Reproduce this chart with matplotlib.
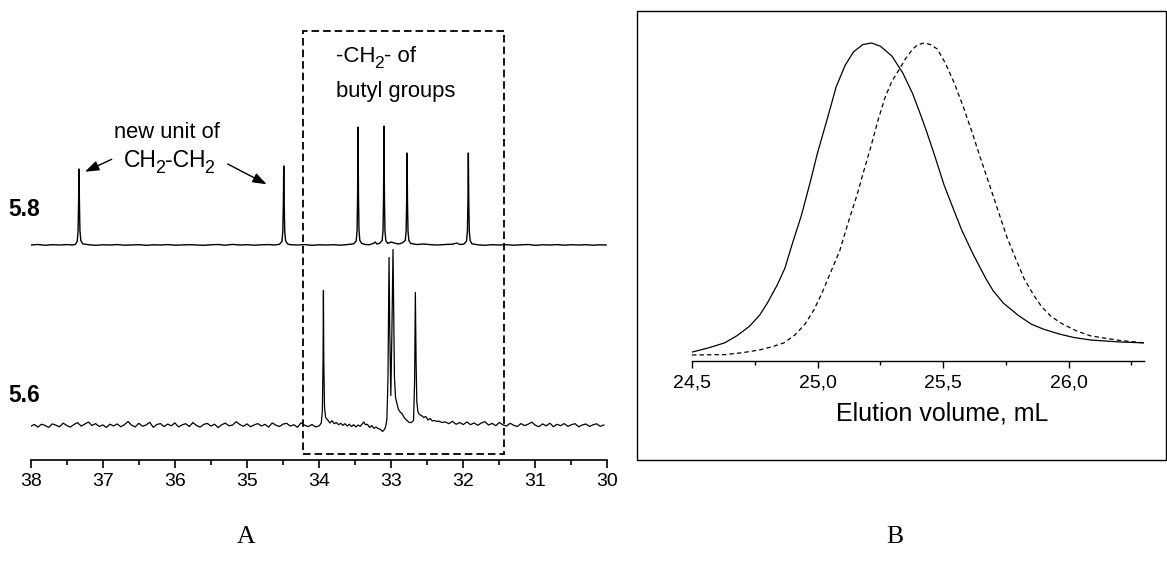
import numpy as np
import matplotlib
matplotlib.use("Agg")
import matplotlib.pyplot as plt
from matplotlib.patches import Rectangle, FancyArrowPatch
from matplotlib.ticker import MultipleLocator, FixedLocator, FixedFormatter

plt.rcParams['font.family'] = ['Liberation Sans', 'DejaVu Sans']

# ---------------- Panel A data: 13C NMR spectra (ppm, relative intensity) ----
# spectrum "5.8" (upper trace)
ppm_58 = [38.00, 37.90, 37.80, 37.70, 37.60, 37.50, 37.42, 37.38, 37.355, 37.343,
          37.336, 37.33, 37.324, 37.317, 37.305, 37.28, 37.20, 37.10, 37.00, 36.90,
          36.80, 36.70, 36.60, 36.50, 36.40, 36.30, 36.20, 36.10, 36.00, 35.90,
          35.80, 35.70, 35.60, 35.50, 35.40, 35.30, 35.20, 35.10, 35.00, 34.90,
          34.80, 34.70, 34.62, 34.55, 34.515, 34.503, 34.496, 34.49, 34.484, 34.477,
          34.465, 34.44, 34.40, 34.30, 34.20, 34.10, 34.00, 33.90, 33.80, 33.70,
          33.60, 33.52, 33.485, 33.473, 33.466, 33.46, 33.454, 33.447, 33.435, 33.41,
          33.36, 33.30, 33.25, 33.22, 33.20, 33.16, 33.125, 33.113, 33.106, 33.10,
          33.094, 33.087, 33.075, 33.05, 33.00, 32.96, 32.90, 32.85, 32.805, 32.793,
          32.786, 32.78, 32.774, 32.767, 32.755, 32.73, 32.65, 32.55, 32.45, 32.35,
          32.25, 32.15, 32.09, 32.05, 31.99, 31.955, 31.943, 31.936, 31.93, 31.924,
          31.917, 31.905, 31.88, 31.80, 31.70, 31.60, 31.50, 31.40, 31.30, 31.20,
          31.10, 31.00, 30.90, 30.80, 30.70, 30.60, 30.50, 30.40, 30.30, 30.20,
          30.10, 30.02]
int_58 = [0.0, 0.5, -0.3, 0.3, 0.0, 0.4, 0.0, 0.6, 3.5, 14.0,
          42.0, 76.0, 42.0, 14.0, 4.5, 1.2, 0.3, -0.3, 0.2, 0.0,
          0.4, -0.2, 0.1, 0.3, -0.3, 0.2, 0.0, 0.4, -0.2, 0.1,
          0.3, 0.0, -0.3, 0.2, 0.5, -0.2, 0.6, 0.0, 0.3, -0.2,
          0.2, 0.4, 0.0, 0.7, 3.5, 14.0, 42.0, 79.0, 42.0, 14.0,
          4.5, 1.2, 0.3, 0.0, 0.4, -0.3, 0.2, 0.0, 0.3, -0.2,
          0.5, 1.2, 4.0, 15.0, 50.0, 118.0, 50.0, 15.0, 4.5, 1.6,
          0.5, 0.3, 1.5, 3.0, 1.0, 1.7, 4.5, 15.0, 50.0, 119.0,
          50.0, 15.0, 4.5, 1.6, 3.0, 2.0, 1.0, 2.0, 4.5, 14.0,
          42.0, 92.0, 42.0, 14.0, 4.5, 1.6, 0.5, 1.0, 0.3, 0.0,
          0.5, 0.8, 2.0, 0.5, 1.0, 4.0, 14.0, 42.0, 92.0, 42.0,
          14.0, 4.5, 1.2, 0.2, -0.3, 0.3, 0.0, 0.3, -0.2, 0.2,
          0.5, -0.3, 0.2, 0.0, 0.4, -0.2, 0.3, 0.0, 0.3, -0.2,
          0.2, 0.0]

# spectrum "5.6" (lower trace): baseline noise, peak region, baseline noise
noise_56_left = [-0.8, 1.0, -1.6, 1.3, 0.0, -1.9, 1.6, 0.3, -1.3, 2.4,
                 0.0, -1.6, 1.0, 2.9, -0.6, 1.4, 3.5, 0.0, 1.9, -1.0,
                 0.6, -1.9, 1.3, -0.5, 1.6, -1.3, 0.8, 4.0, 0.3, -1.4,
                 2.2, -0.8, 0.5, 3.2, -1.8, 1.0, 1.9, -1.1, 1.4, -0.3,
                 2.6, -1.4, 0.6, 1.8, -1.0, 2.9, 0.0, -1.6, 1.1, 2.1,
                 -0.6, 1.3, -2.1, 0.8, 2.4, -0.3, 0.5, 3.8, 1.0, -0.8,
                 1.6, -1.3, 0.6, 1.9, -0.5, 1.1, -1.6, 2.6, 0.3, -1.0,
                 1.4, 2.2, -0.6, 0.8, -1.8, 2.7, 0.2, -1.1, 1.0, -1.4]
ppm_56_peaks = [34.00, 33.97, 33.955, 33.945, 33.94, 33.935, 33.925, 33.91, 33.88, 33.85,
                33.82, 33.79, 33.76, 33.73, 33.70, 33.67, 33.64, 33.61, 33.58, 33.55,
                33.52, 33.49, 33.46, 33.43, 33.40, 33.38, 33.36, 33.33, 33.30, 33.27,
                33.24, 33.21, 33.18, 33.15, 33.12, 33.10, 33.08, 33.06, 33.045, 33.035,
                33.03, 33.02, 33.005, 32.99, 32.975, 32.965, 32.955, 32.94, 32.92, 32.90,
                32.87, 32.85, 32.82, 32.79, 32.75, 32.72, 32.69, 32.675, 32.665, 32.655,
                32.645, 32.63, 32.61, 32.58, 32.55, 32.52, 32.49, 32.46, 32.43, 32.40,
                32.37, 32.34, 32.30]
int_56_peaks = [-0.5, 2.5, 14.0, 65.0, 135.0, 65.0, 18.0, 8.0, 5.5, 2.5,
                4.8, 1.8, 3.0, 0.8, 2.2, 0.2, 1.8, -0.5, 1.2, -1.0,
                0.8, -1.5, 0.5, -0.8, 1.8, 3.5, 1.0, 1.2, -2.0, 0.0,
                -2.8, -1.5, -3.2, -3.8, -6.0, -4.5, -2.0, 6.0, 45.0, 125.0,
                168.0, 95.0, 30.0, 95.0, 176.0, 115.0, 48.0, 28.0, 22.0, 16.0,
                13.0, 12.0, 8.0, 5.5, 3.0, 3.0, 5.0, 45.0, 133.0, 65.0,
                24.0, 14.0, 11.0, 10.0, 8.0, 9.0, 5.5, 7.0, 4.5, 5.0,
                4.0, 4.5, 3.0]
noise_56_right = [3.5, 1.8, 4.2, 1.2, 3.0, 0.9, 3.6, 0.8, 2.6, 0.2,
                  2.5, 3.8, 0.5, 2.1, -0.2, 3.0, 0.6, -0.5, 2.2, 0.2,
                  -1.0, 1.9, -0.1, 1.3, 3.4, 0.2, -1.2, 1.6, -0.3, 2.3,
                  -1.2, 1.2, -0.2, 1.9, -0.9, 0.8, 1.8, -1.3, 0.5, 1.5,
                  -0.9, 0.7, 1.7, -0.8, 0.5]

nmr_ticks = [38, 37, 36, 35, 34, 33, 32, 31, 30]
box_ppm = [34.23, 31.44]
trace_labels = ['5.8', '5.6']

# ---------------- Panel B data: GPC traces --------------------------------
vol_solid = [24.50, 24.56, 24.63, 24.68, 24.73, 24.77, 24.80, 24.84, 24.87, 24.90,
             24.935, 24.97, 25.00, 25.04, 25.074, 25.11, 25.143, 25.18, 25.215, 25.25,
             25.296, 25.34, 25.379, 25.41, 25.435, 25.47, 25.504, 25.54, 25.574, 25.62,
             25.671, 25.70, 25.74, 25.80, 25.851, 25.90, 25.962, 26.02, 26.087, 26.20, 26.30]
sig_solid = [0.028, 0.040, 0.057, 0.080, 0.110, 0.145, 0.182, 0.240, 0.292, 0.370,
             0.456, 0.560, 0.655, 0.765, 0.862, 0.930, 0.972, 0.995, 1.000, 0.990,
             0.959, 0.905, 0.840, 0.775, 0.720, 0.637, 0.553, 0.480, 0.412, 0.335,
             0.258, 0.220, 0.182, 0.143, 0.116, 0.100, 0.085, 0.074, 0.066, 0.060, 0.057]
vol_dash = [24.50, 24.63, 24.70, 24.77, 24.82, 24.866, 24.91, 24.95, 24.985, 25.018,
            25.05, 25.088, 25.12, 25.157, 25.185, 25.213, 25.24, 25.268, 25.296, 25.324,
            25.35, 25.379, 25.40, 25.425, 25.45, 25.477, 25.51, 25.546, 25.58, 25.615,
            25.65, 25.685, 25.72, 25.754, 25.79, 25.823, 25.86, 25.893, 25.93, 25.976,
            26.03, 26.087, 26.20, 26.30]
sig_dash = [0.019, 0.020, 0.026, 0.035, 0.045, 0.057, 0.082, 0.116, 0.160, 0.214,
            0.275, 0.346, 0.430, 0.522, 0.600, 0.676, 0.755, 0.827, 0.880, 0.915,
            0.950, 0.981, 0.995, 1.000, 0.995, 0.981, 0.935, 0.871, 0.800, 0.720,
            0.635, 0.553, 0.470, 0.390, 0.320, 0.258, 0.208, 0.170, 0.140, 0.116,
            0.095, 0.079, 0.065, 0.057]
gpc_ticks = [24.5, 25.0, 25.5, 26.0]
gpc_ticklabels = ['24,5', '25,0', '25,5', '26,0']

# ---------------- layout -------------------------------------------------
W, H = 1167, 576
fig = plt.figure(figsize=(W / 100, H / 100), dpi=100)
renderer = fig.canvas.get_renderer()


def fx(x):
    return x / W


def fy(y):
    return 1 - y / H


def rich_text(x_px, y_px, parts, size, ha='left'):
    """Draw text pieces; parts = list of (string, is_subscript). y_px = baseline."""
    sub_size = size * 0.78
    sub_drop = size * 0.29 * 100 / 72  # pixels
    kern = 1.5  # pixels removed before a subscript
    pieces = []
    for s, sub in parts:
        t = fig.text(0, 0, s, fontsize=sub_size if sub else size, va='baseline', ha='left')
        w = t.get_window_extent(renderer).width
        pieces.append([t, sub, w])
    advances = []
    for i, (t, sub, w) in enumerate(pieces):
        adv = w
        if i + 1 < len(pieces) and pieces[i + 1][1] and not sub:
            adv -= kern
        advances.append(adv)
    total = sum(advances)
    x = x_px - (total / 2 if ha == 'center' else 0)
    for (t, sub, w), adv in zip(pieces, advances):
        t.set_position((fx(x), fy(y_px + (sub_drop if sub else 0))))
        x += adv


# ---- Panel A ----
axA_l, axA_r, axA_b, axA_t = 30.7, 607.5, 459.5, 20.0
axA = fig.add_axes([fx(axA_l), fy(axA_b), (axA_r - axA_l) / W, (axA_b - axA_t) / H])
axA.set_xlim(38, 30)
axA.set_ylim(0, axA_b - axA_t)
off_58 = axA_b - 245.0
off_56 = axA_b - 425.5

axA.plot(ppm_58, np.array(int_58) + off_58, color='black', lw=1.0)
ppm_left = np.linspace(38.0, 34.05, len(noise_56_left))
ppm_right = np.linspace(32.25, 30.05, len(noise_56_right))
ppm_56 = np.concatenate([ppm_left, ppm_56_peaks, ppm_right])
int_56 = np.concatenate([noise_56_left, int_56_peaks, noise_56_right])
axA.plot(ppm_56, int_56 + off_56, color='black', lw=0.9)

# dashed box
axA.add_patch(Rectangle((box_ppm[0], axA_b - 454.0), box_ppm[1] - box_ppm[0],
                        454.0 - 31.0, fill=False, edgecolor='black', lw=1.3,
                        linestyle=(0, (4.2, 2.2)), clip_on=False))

for s in ['left', 'right', 'top']:
    axA.spines[s].set_visible(False)
axA.spines['bottom'].set_linewidth(1.2)
axA.set_yticks([])
axA.xaxis.set_major_locator(FixedLocator(nmr_ticks))
axA.xaxis.set_major_formatter(FixedFormatter([str(t) for t in nmr_ticks]))
axA.xaxis.set_minor_locator(MultipleLocator(0.5))
axA.tick_params(axis='x', which='major', direction='out', length=6, width=1.2,
                labelsize=14, pad=3.5)
axA.tick_params(axis='x', which='minor', direction='out', length=3.5, width=1.2)

fig.text(fx(8), fy(210), trace_labels[0], fontsize=16.5, fontweight='bold', va='center', ha='left')
fig.text(fx(8), fy(395), trace_labels[1], fontsize=16.5, fontweight='bold', va='center', ha='left')

rich_text(167, 137.7, [('new unit of', False)], 15.8, ha='center')
rich_text(168.5, 166.7, [('CH', False), ('2', True), ('-CH', False), ('2', True)], 16.5, ha='center')
rich_text(336, 62, [('-CH', False), ('2', True), ('- of', False)], 16.0)
rich_text(336, 96.7, [('butyl groups', False)], 15.8)

for (x0, y0, x1, y1) in [(111.7, 159.3, 85.0, 171.7), (227.7, 164.0, 266.7, 184.3)]:
    fig.add_artist(FancyArrowPatch((fx(x0), fy(y0)), (fx(x1), fy(y1)),
                                   transform=fig.transFigure,
                                   arrowstyle='-|>,head_length=0.7,head_width=0.25',
                                   mutation_scale=12, lw=1.0, color='black',
                                   shrinkA=0, shrinkB=0))

# ---- Panel B ----
fig.add_artist(Rectangle((fx(637), fy(460)), (1165.5 - 637) / W, (460 - 10.5) / H,
                         transform=fig.transFigure, fill=False, edgecolor='black', lw=1.0))

axB_l, axB_r, axB_b, axB_t = 692.0, 1144.0, 361.0, 20.0
axB = fig.add_axes([fx(axB_l), fy(axB_b), (axB_r - axB_l) / W, (axB_b - axB_t) / H])
axB.set_xlim(24.5, 26.3)
axB.set_ylim(0, (axB_b - axB_t) / (axB_b - 43.0))
axB.plot(vol_solid, sig_solid, color='black', lw=0.9)
axB.plot(vol_dash, sig_dash, color='black', lw=0.9, linestyle=(0, (3.5, 2.5)))
for s in ['left', 'right', 'top']:
    axB.spines[s].set_visible(False)
axB.spines['bottom'].set_linewidth(1.0)
axB.set_yticks([])
axB.xaxis.set_major_locator(FixedLocator(gpc_ticks))
axB.xaxis.set_major_formatter(FixedFormatter(gpc_ticklabels))
axB.xaxis.set_minor_locator(MultipleLocator(0.25))
axB.tick_params(axis='x', which='major', direction='out', length=5, width=1.0,
                labelsize=14, pad=5)
axB.tick_params(axis='x', which='minor', direction='out', length=3, width=1.0)
axB.set_xlabel('Elution volume, mL', fontsize=18)
axB.xaxis.set_label_coords((942 - axB_l) / (axB_r - axB_l), -(413 - axB_b) / (axB_b - axB_t))
axB.xaxis.label.set_va('center')

# panel letters
fig.text(fx(246), fy(537), 'A', fontsize=18.5, family=['Liberation Serif'], ha='center', va='center')
fig.text(fx(895), fy(537), 'B', fontsize=18.5, family=['Liberation Serif'], ha='center', va='center')

fig.savefig('out.png', dpi=100)
